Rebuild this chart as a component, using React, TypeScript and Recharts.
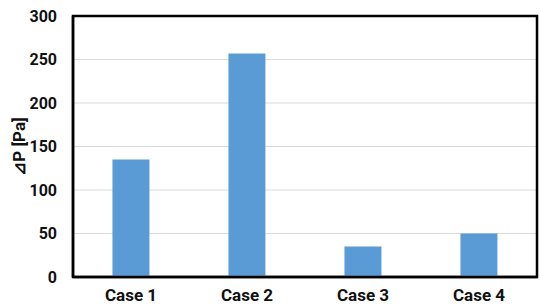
import { BarChart, Bar, XAxis, YAxis, CartesianGrid, Label, ReferenceArea } from 'recharts'

const cases = ['Case 1', 'Case 2', 'Case 3', 'Case 4']
const deltaP = [135, 257, 35, 50]
const yTicks = [0, 50, 100, 150, 200, 250, 300]

const data = cases.map((name, i) => ({ name, dp: deltaP[i] }))

const font = 'Roboto, "Liberation Sans", sans-serif'

export default function App() {
  return (
    <div style={{ position: 'absolute', left: 0, top: 0, width: 540, height: 307, background: '#fff' }}>
      <BarChart
        width={540}
        height={307}
        data={data}
        margin={{ top: 16, right: 3, bottom: 0, left: 0 }}
        barCategoryGap="34%"
      >
        <CartesianGrid horizontal vertical={false} stroke="#d9d9d9" strokeWidth={1} />
        <XAxis
          dataKey="name"
          height={30}
          axisLine={{ stroke: '#000', strokeWidth: 2.5 }}
          tickLine={false}
          tick={{ fontFamily: font, fontSize: 17, fontWeight: 700, fill: '#111' }}
          tickMargin={6}
        />
        <YAxis
          width={73}
          domain={[0, 300]}
          ticks={yTicks}
          interval={0}
          axisLine={{ stroke: '#000', strokeWidth: 2.5 }}
          tickLine={false}
          tick={{ fontFamily: font, fontSize: 16, fontWeight: 700, fill: '#111' }}
          tickMargin={10}
        >
          <Label
            value="⊿P [Pa]"
            angle={-90}
            position="insideLeft"
            offset={19}
            style={{ fontFamily: font, fontSize: 17, fontWeight: 700, fill: '#111', textAnchor: 'middle' }}
          />
        </YAxis>
        <Bar dataKey="dp" fill="#5b9bd5" isAnimationActive={false} />
        <ReferenceArea y1={0} y2={300} fill="none" stroke="#000" strokeWidth={2.5} fillOpacity={0} ifOverflow="visible" />
      </BarChart>
    </div>
  )
}
